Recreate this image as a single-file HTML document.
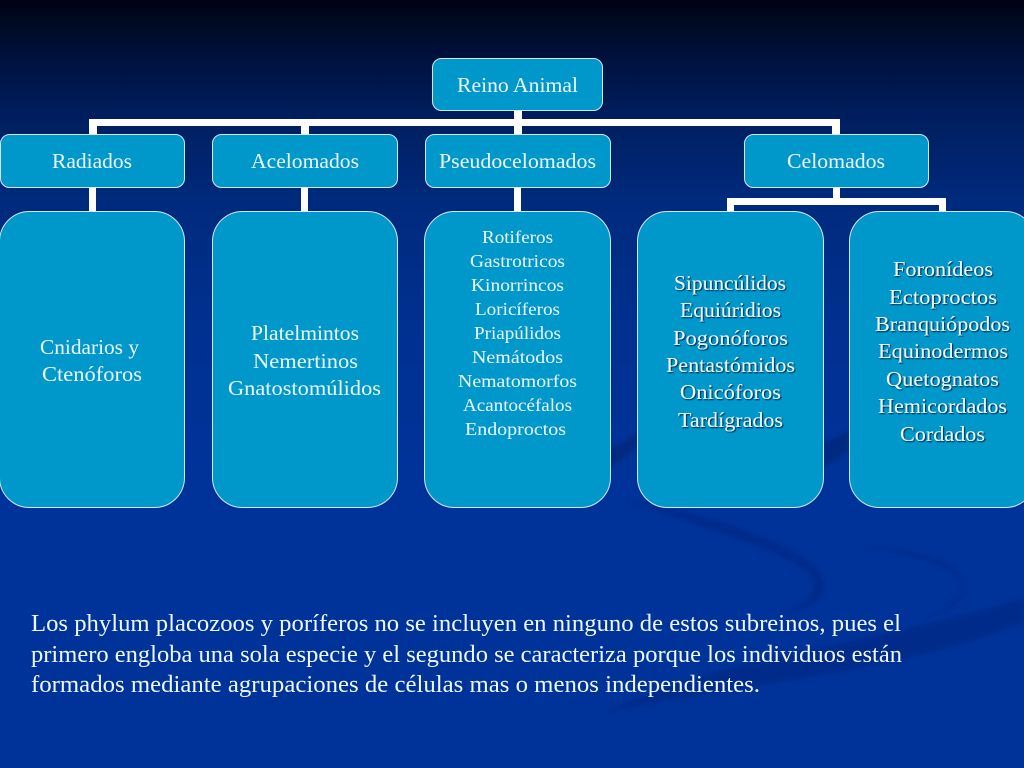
<!DOCTYPE html>
<html><head><meta charset="utf-8"><style>
html,body{margin:0;padding:0;width:1024px;height:768px;overflow:hidden;background:#003399}
svg{display:block}
text{font-family:"Liberation Serif",serif;fill:#eef8ff}
.s{filter:url(#sh)}
</style></head><body>
<svg width="1024" height="768" viewBox="0 0 1024 768" xmlns="http://www.w3.org/2000/svg">
<defs>
<linearGradient id="bg" x1="0" y1="0" x2="0" y2="1">
<stop offset="0" stop-color="#000014"/><stop offset=".025" stop-color="#000a20"/><stop offset=".07" stop-color="#00103a"/><stop offset=".15" stop-color="#001e5e"/><stop offset=".26" stop-color="#002a7c"/><stop offset=".42" stop-color="#003090"/><stop offset=".6" stop-color="#003399"/><stop offset="1" stop-color="#003399"/>
</linearGradient>
<filter id="sh" x="-10%" y="-20%" width="120%" height="140%"><feDropShadow dx="1" dy="1" stdDeviation=".5" flood-color="#001030" flood-opacity=".9"/></filter>
<filter id="bl" x="-5%" y="-5%" width="110%" height="110%"><feGaussianBlur stdDeviation="2"/></filter>
</defs>
<rect width="1024" height="768" fill="url(#bg)"/>
<g filter="url(#bl)">
<path d="M1024 598C950 620 860 640 760 660C700 675 640 695 600 715C680 695 780 685 880 664C950 650 1000 632 1024 622Z" fill="#002a88" opacity=".85"/>
<path d="M625 500C690 525 770 545 805 570C822 585 815 600 780 615C840 605 830 575 805 558C760 530 690 510 625 500Z" fill="#002a88" opacity=".75"/>
<path d="M860 545C905 555 955 565 962 583C965 595 945 610 925 618C970 608 975 580 950 565C925 552 890 547 860 545Z" fill="#002a88" opacity=".7"/>
<path d="M608 470L640 445L640 432L608 450Z" fill="#00287f" opacity=".9"/>
<path d="M820 470L850 450L850 430L820 445Z" fill="#00287f" opacity=".9"/>
</g>
<g fill="#ffffff">
<rect x="514" y="110" width="8" height="25"/>
<rect x="89" y="119" width="751" height="7"/>
<rect x="89" y="119" width="8" height="16"/>
<rect x="301" y="119" width="8" height="16"/>
<rect x="832" y="119" width="8" height="16"/>
<rect x="89" y="187" width="7" height="25"/>
<rect x="301" y="187" width="7" height="25"/>
<rect x="514" y="187" width="7" height="25"/>
<rect x="833" y="187" width="7" height="12"/>
<rect x="727" y="198" width="219" height="7"/>
<rect x="727" y="198" width="7" height="14"/>
<rect x="939" y="198" width="7" height="14"/>
</g>
<g fill="#0097ca" stroke="#d6e8f5" stroke-width="1">
<rect x="432.5" y="58.5" width="170" height="52" rx="9"/>
<rect x="0.5" y="134.5" width="184" height="53" rx="9"/>
<rect x="212.5" y="134.5" width="185" height="53" rx="9"/>
<rect x="425.5" y="134.5" width="185" height="53" rx="9"/>
<rect x="744.5" y="134.5" width="184" height="53" rx="9"/>
<rect x="-0.5" y="211.5" width="185" height="296" rx="30"/>
<rect x="212.5" y="211.5" width="185" height="296" rx="30"/>
<rect x="424.5" y="211.5" width="186" height="296" rx="30"/>
<rect x="637.5" y="211.5" width="186" height="296" rx="30"/>
<rect x="849.5" y="211.5" width="186" height="296" rx="30"/>
</g>
<g>
<text x="457" y="92" font-size="21" textLength="121" lengthAdjust="spacingAndGlyphs">Reino Animal</text>
<text x="52" y="168" font-size="21" textLength="80" lengthAdjust="spacingAndGlyphs">Radiados</text>
<text x="251" y="168" font-size="21" textLength="108" lengthAdjust="spacingAndGlyphs">Acelomados</text>
<text x="439" y="168" font-size="21" textLength="157" lengthAdjust="spacingAndGlyphs">Pseudocelomados</text>
<text x="787" y="168" font-size="21" textLength="98" lengthAdjust="spacingAndGlyphs">Celomados</text>
<text x="40" y="354" font-size="21" textLength="99" lengthAdjust="spacingAndGlyphs">Cnidarios y</text>
<text x="42" y="381" font-size="21" textLength="100" lengthAdjust="spacingAndGlyphs">Ctenóforos</text>
<text x="251" y="340" font-size="21" textLength="108" lengthAdjust="spacingAndGlyphs">Platelmintos</text>
<text x="253" y="368" font-size="21" textLength="105" lengthAdjust="spacingAndGlyphs">Nemertinos</text>
<text x="228" y="395" font-size="21" textLength="153" lengthAdjust="spacingAndGlyphs">Gnatostomúlidos</text>
</g>
<g>
<text x="482" y="243" font-size="18" textLength="71" lengthAdjust="spacingAndGlyphs">Rotiferos</text>
<text x="470" y="267" font-size="18" textLength="95" lengthAdjust="spacingAndGlyphs">Gastrotricos</text>
<text x="471" y="291" font-size="18" textLength="93" lengthAdjust="spacingAndGlyphs">Kinorrincos</text>
<text x="475" y="315" font-size="18" textLength="85" lengthAdjust="spacingAndGlyphs">Loricíferos</text>
<text x="474" y="339" font-size="18" textLength="87" lengthAdjust="spacingAndGlyphs">Priapúlidos</text>
<text x="472" y="363" font-size="18" textLength="91" lengthAdjust="spacingAndGlyphs">Nemátodos</text>
<text x="458" y="387" font-size="18" textLength="119" lengthAdjust="spacingAndGlyphs">Nematomorfos</text>
<text x="463" y="411" font-size="18" textLength="109" lengthAdjust="spacingAndGlyphs">Acantocéfalos</text>
<text x="465" y="435" font-size="18" textLength="101" lengthAdjust="spacingAndGlyphs">Endoproctos</text>
</g>
<g class="s">
<text x="674" y="290" font-size="21" textLength="112" lengthAdjust="spacingAndGlyphs">Sipuncúlidos</text>
<text x="680" y="317" font-size="21" textLength="101" lengthAdjust="spacingAndGlyphs">Equiúridios</text>
<text x="673" y="345" font-size="21" textLength="115" lengthAdjust="spacingAndGlyphs">Pogonóforos</text>
<text x="666" y="372" font-size="21" textLength="129" lengthAdjust="spacingAndGlyphs">Pentastómidos</text>
<text x="680" y="399" font-size="21" textLength="101" lengthAdjust="spacingAndGlyphs">Onicóforos</text>
<text x="678" y="427" font-size="21" textLength="105" lengthAdjust="spacingAndGlyphs">Tardígrados</text>
<text x="893" y="276" font-size="21" textLength="100" lengthAdjust="spacingAndGlyphs">Foronídeos</text>
<text x="889" y="304" font-size="21" textLength="108" lengthAdjust="spacingAndGlyphs">Ectoproctos</text>
<text x="875" y="331" font-size="21" textLength="135" lengthAdjust="spacingAndGlyphs">Branquiópodos</text>
<text x="878" y="358" font-size="21" textLength="130" lengthAdjust="spacingAndGlyphs">Equinodermos</text>
<text x="886" y="386" font-size="21" textLength="113" lengthAdjust="spacingAndGlyphs">Quetognatos</text>
<text x="878" y="413" font-size="21" textLength="129" lengthAdjust="spacingAndGlyphs">Hemicordados</text>
<text x="900" y="441" font-size="21" textLength="85" lengthAdjust="spacingAndGlyphs">Cordados</text>
</g>
<g>
<text x="31" y="631" font-size="24" textLength="870" lengthAdjust="spacingAndGlyphs">Los phylum placozoos y poríferos no se incluyen en ninguno de estos subreinos, pues el</text>
<text x="31" y="662" font-size="24" textLength="871" lengthAdjust="spacingAndGlyphs">primero engloba una sola especie y el segundo se caracteriza porque los individuos están</text>
<text x="31" y="692" font-size="24" textLength="729" lengthAdjust="spacingAndGlyphs">formados mediante agrupaciones de células mas o menos independientes.</text>
</g>
</svg>
</body></html>
